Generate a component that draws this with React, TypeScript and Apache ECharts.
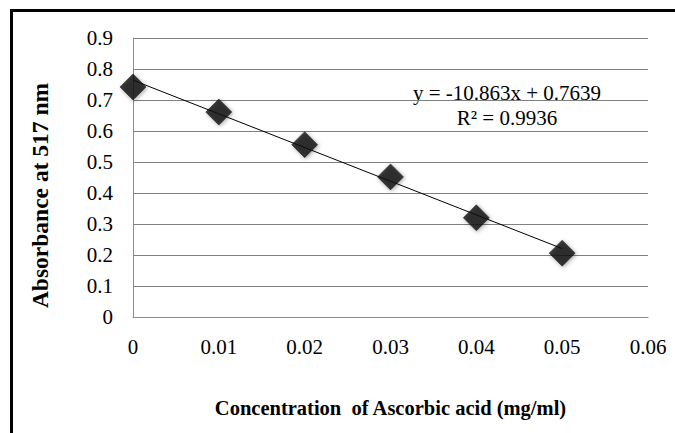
import React, { useEffect, useRef } from "react";
import * as echarts from "echarts";

const concentrations = [0, 0.01, 0.02, 0.03, 0.04, 0.05];
const absorbance = [0.742, 0.661, 0.556, 0.452, 0.32, 0.206];
const slope = -10.863;
const intercept = 0.7639;
const equationText = "y = -10.863x + 0.7639";
const r2Text = "R² = 0.9936";
const xTitle = "Concentration  of Ascorbic acid (mg/ml)";
const yTitle = "Absorbance at 517 nm";

const FONT = "'Liberation Serif', 'Times New Roman', serif";

export default function App() {
  const ref = useRef<HTMLDivElement>(null);
  useEffect(() => {
    if (!ref.current) return;
    const chart = echarts.init(ref.current, null, { renderer: "svg" });
    const xs0 = concentrations[0];
    const xs1 = concentrations[concentrations.length - 1];
    chart.setOption({
      animation: false,
      backgroundColor: "#ffffff",
      grid: { left: 133, top: 38, right: 27, bottom: 116 },
      xAxis: {
        type: "value",
        min: 0,
        max: 0.06,
        interval: 0.01,
        name: xTitle,
        nameLocation: "middle",
        nameGap: 80,
        nameTextStyle: { fontFamily: FONT, fontWeight: "bold", fontSize: 20.5, color: "#000" },
        axisLine: { show: true, lineStyle: { color: "#8c8c8c", width: 1 } },
        axisTick: { show: false },
        splitLine: { show: false },
        axisLabel: { fontFamily: FONT, fontSize: 21, color: "#000", margin: 19 },
      },
      yAxis: {
        type: "value",
        min: 0,
        max: 0.9,
        interval: 0.1,
        name: yTitle,
        nameLocation: "middle",
        nameGap: 81,
        nameTextStyle: {
          fontFamily: FONT,
          fontWeight: "bold",
          fontSize: 23.5,
          color: "#000",
          padding: [0, 36, 0, 0],
        },
        axisLine: { show: true, lineStyle: { color: "#8c8c8c", width: 1 } },
        axisTick: { show: false },
        splitLine: { show: true, lineStyle: { color: "#808080", width: 1 } },
        axisLabel: {
          fontFamily: FONT,
          fontSize: 21,
          color: "#000",
          margin: 20,
          formatter: (v: number) => (Math.round(v * 10) / 10).toString(),
        },
      },
      series: [
        {
          type: "line",
          data: [
            [xs0, slope * xs0 + intercept],
            [xs1, slope * xs1 + intercept],
          ],
          symbol: "none",
          lineStyle: { color: "#000", width: 1 },
          silent: true,
          z: 2,
        },
        {
          type: "scatter",
          data: concentrations.map((c, i) => [c, absorbance[i]]),
          symbol: "diamond",
          symbolSize: [26, 26],
          itemStyle: {
            color: "#111111",
            borderColor: "#000",
            borderWidth: 0.5,
            shadowBlur: 4,
            shadowColor: "rgba(0,0,0,0.45)",
            shadowOffsetX: 1,
            shadowOffsetY: 1,
          },
          z: 3,
        },
      ],
      graphic: [
        {
          type: "line",
          shape: { x1: 10, y1: 10.5, x2: 675, y2: 10.5 },
          style: { stroke: "#000", lineWidth: 3 },
        },
        {
          type: "line",
          shape: { x1: 11.5, y1: 9, x2: 11.5, y2: 433 },
          style: { stroke: "#000", lineWidth: 3 },
        },
        {
          type: "text",
          x: 507,
          y: 93,
          style: {
            text: equationText,
            fontFamily: FONT,
            fontSize: 21,
            fill: "#000",
            align: "center",
            verticalAlign: "middle",
          },
        },
        {
          type: "text",
          x: 507,
          y: 118,
          style: {
            text: r2Text,
            fontFamily: FONT,
            fontSize: 21,
            fill: "#000",
            align: "center",
            verticalAlign: "middle",
          },
        },
      ],
    });
    return () => chart.dispose();
  }, []);
  return (
    <div
      ref={ref}
      style={{ position: "absolute", left: 0, top: 0, width: 675, height: 433 }}
    />
  );
}
